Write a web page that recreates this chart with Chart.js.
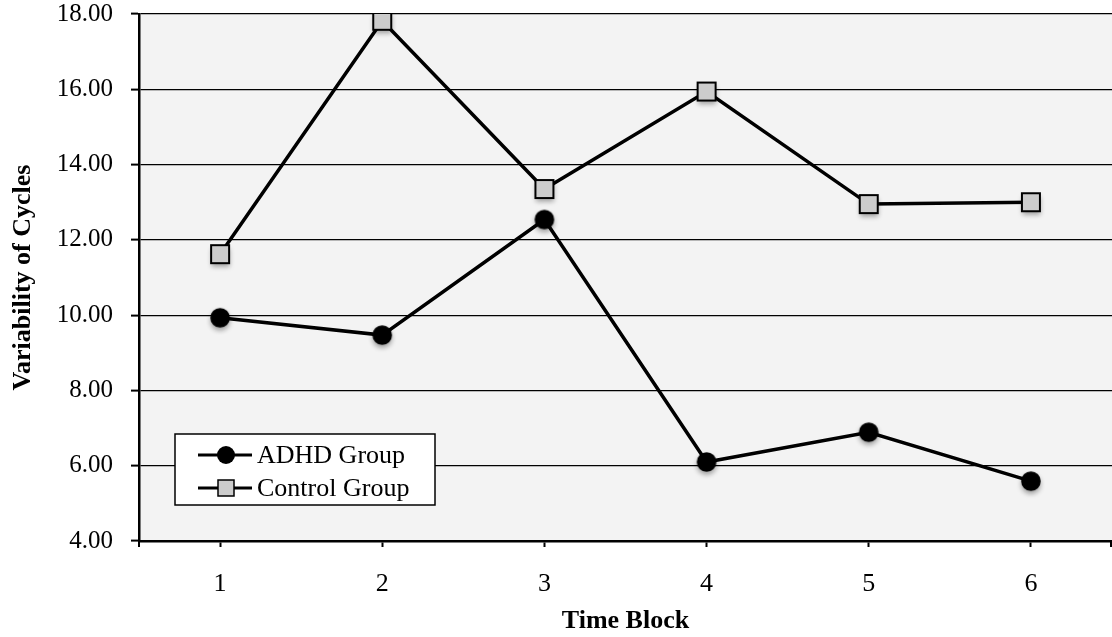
<!DOCTYPE html>
<html>
<head>
<meta charset="utf-8">
<title>Variability of Cycles by Time Block</title>
<script src="https://cdn.jsdelivr.net/npm/chart.js@4.4.1/dist/chart.umd.min.js"></script>
<style>
  html, body { margin: 0; padding: 0; background: #ffffff; overflow: hidden; }
  #wrap { width: 1112px; height: 637px; position: relative; overflow: hidden; }
  #chart { display: block; }
</style>
</head>
<body>
<div id="wrap"><canvas id="chart" width="1112" height="637"></canvas></div>
<script>
// Time blocks on the x axis
const timeBlocks = ['1', '2', '3', '4', '5', '6'];

// Mean variability of cycles per time block
const adhdValues = [9.93, 9.47, 12.54, 6.10, 6.89, 5.59];
const controlValues = [11.62, 17.82, 13.35, 15.94, 12.95, 13.00];

// Y axis range and step
const yMin = 4;
const yMax = 18;
const yStep = 2;

const SERIF = '"Liberation Serif", "Times New Roman", Times, serif';

// Marker images with a soft drop shadow underneath
function makeMarker(kind) {
  const c = document.createElement('canvas');
  c.width = 40; c.height = 40;
  const g = c.getContext('2d');
  g.save();
  g.shadowColor = 'rgba(0,0,0,0.35)';
  g.shadowBlur = 5;
  g.shadowOffsetY = 3;
  if (kind === 'circle') {
    g.beginPath();
    g.arc(20, 20, 9.8, 0, Math.PI * 2);
    g.fillStyle = '#000000';
    g.fill();
  } else {
    g.fillStyle = '#cccccc';
    g.fillRect(10.5, 10.5, 19, 19);
  }
  g.restore();
  if (kind !== 'circle') {
    g.lineWidth = 2;
    g.strokeStyle = '#000000';
    g.strokeRect(11, 11, 18, 18);
  }
  return c;
}

const plotBackground = {
  id: 'plotBackground',
  beforeDraw(chart) {
    const { ctx, chartArea: a } = chart;
    ctx.save();
    ctx.fillStyle = '#f3f3f3';
    ctx.fillRect(a.left, a.top, a.right - a.left, a.bottom - a.top);
    ctx.restore();
  }
};

// Boxed legend placed inside the plot area, lower left
const boxLegend = {
  id: 'boxLegend',
  afterDraw(chart) {
    const { ctx } = chart;
    const x = 175, y = 434, w = 260, h = 71;
    ctx.save();
    ctx.fillStyle = '#ffffff';
    ctx.fillRect(x, y, w, h);
    ctx.lineWidth = 1.5;
    ctx.strokeStyle = '#000000';
    ctx.strokeRect(x, y, w, h);
    const rows = [455, 488];
    chart.data.datasets.forEach((ds, i) => {
      const cy = rows[i];
      ctx.beginPath();
      ctx.moveTo(198, cy);
      ctx.lineTo(252, cy);
      ctx.lineWidth = 3;
      ctx.strokeStyle = ds.borderColor;
      ctx.stroke();
      if (ds.legendMarker === 'circle') {
        ctx.beginPath();
        ctx.arc(226, cy, 9, 0, Math.PI * 2);
        ctx.fillStyle = '#000000';
        ctx.fill();
      } else {
        ctx.fillStyle = '#cccccc';
        ctx.fillRect(218, cy - 8, 16, 16);
        ctx.lineWidth = 1.5;
        ctx.strokeStyle = '#000000';
        ctx.strokeRect(218, cy - 8, 16, 16);
      }
      ctx.fillStyle = '#000000';
      ctx.font = '26px ' + SERIF;
      ctx.textBaseline = 'middle';
      ctx.textAlign = 'left';
      ctx.fillText(ds.label, 257, cy + 1);
    });
    // small tick marks at both ends of the category axis
    const xs = chart.scales.x;
    ctx.beginPath();
    ctx.lineWidth = 2;
    ctx.strokeStyle = '#000000';
    ctx.moveTo(xs.left, xs.top); ctx.lineTo(xs.left, xs.top + 6);
    ctx.moveTo(xs.right - 1, xs.top); ctx.lineTo(xs.right - 1, xs.top + 6);
    ctx.stroke();
    ctx.restore();
  }
};

new Chart(document.getElementById('chart'), {
  type: 'line',
  data: {
    labels: timeBlocks,
    datasets: [
      {
        label: 'ADHD Group',
        data: adhdValues,
        borderColor: '#000000',
        backgroundColor: '#000000',
        borderWidth: 3.5,
        pointStyle: makeMarker('circle'),
        legendMarker: 'circle',
        tension: 0
      },
      {
        label: 'Control Group',
        data: controlValues,
        borderColor: '#000000',
        backgroundColor: '#cccccc',
        borderWidth: 3.5,
        pointStyle: makeMarker('rect'),
        legendMarker: 'rect',
        tension: 0
      }
    ]
  },
  options: {
    responsive: false,
    animation: false,
    devicePixelRatio: 1,
    layout: { autoPadding: false, padding: { top: 14, right: 0, bottom: 0, left: 0 } },
    plugins: {
      legend: { display: false },
      tooltip: { enabled: false }
    },
    scales: {
      x: {
        type: 'category',
        offset: true,
        afterFit(scale) {
          scale.height = 96;
          scale.paddingLeft = 0;
          scale.paddingRight = 0;
        },
        grid: {
          drawOnChartArea: false,
          drawTicks: true,
          tickLength: 6,
          tickWidth: 2,
          tickColor: '#000000'
        },
        border: { display: true, color: '#000000', width: 2.5 },
        ticks: {
          color: '#000000',
          font: { family: SERIF, size: 26 },
          padding: 22,
          maxRotation: 0
        },
        title: {
          display: true,
          text: 'Time Block',
          color: '#000000',
          font: { family: SERIF, size: 26, weight: 'bold' },
          padding: { top: 0, bottom: 0 }
        }
      },
      y: {
        min: yMin,
        max: yMax,
        afterFit(scale) {
          scale.width = 139;
          scale.paddingTop = 0;
          scale.paddingBottom = 0;
        },
        grid: {
          color: '#000000',
          lineWidth: 1.2,
          drawTicks: true,
          tickLength: 8,
          tickWidth: 2,
          tickColor: '#000000'
        },
        border: { display: true, color: '#000000', width: 2.5 },
        ticks: {
          stepSize: yStep,
          color: '#000000',
          font: { family: SERIF, size: 25 },
          padding: 18,
          callback: (v) => Number(v).toFixed(2)
        },
        title: {
          display: true,
          text: 'Variability of Cycles',
          color: '#000000',
          font: { family: SERIF, size: 26, weight: 'bold' },
          padding: { top: 8, bottom: 0 }
        }
      }
    }
  },
  plugins: [plotBackground, boxLegend]
});
</script>
</body>
</html>
